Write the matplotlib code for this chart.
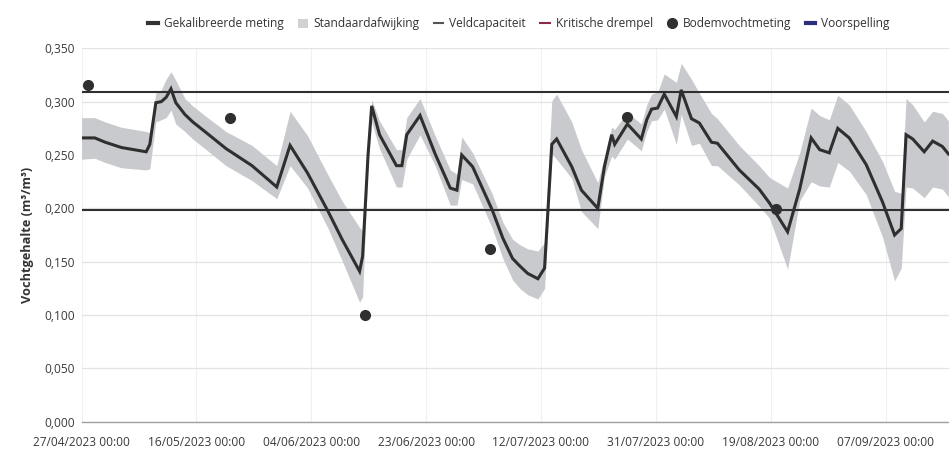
import matplotlib
matplotlib.use("Agg")
import matplotlib.pyplot as plt
from matplotlib.lines import Line2D
from matplotlib.patches import Patch
import pandas as pd

plt.rcParams['font.family'] = ['Open Sans', 'DejaVu Sans']

start = pd.Timestamp("2023-04-27")

# days since 27/04/2023 00:00
meting_days = [0.0, 2.2, 3.9, 6.6, 10.7, 11.3, 12.3, 13.2, 14.0, 14.8, 15.6, 17.1, 18.4, 20.4, 23.9,
               28.2, 32.3, 34.5, 37.4, 40.8, 43.1, 46.0, 46.5, 47.4, 48.0, 49.3, 52.1, 53.0, 53.8,
               56.0, 58.5, 61.0, 62.1, 62.9, 64.7, 67.9, 69.7, 71.3, 72.5, 73.8, 75.5, 76.6, 77.8,
               78.6, 81.1, 82.7, 85.4, 86.5, 87.7, 88.2, 90.3, 92.6, 93.5, 94.3, 95.3, 96.4, 98.4,
               99.2, 100.9, 102.2, 104.2, 105.2, 108.8, 112.1, 113.8, 116.8, 118.8, 120.7, 122.1,
               123.7, 125.1, 127.0, 129.8, 132.5, 134.5, 135.6, 136.4, 137.5, 139.4, 140.8, 142.4, 143.4]
meting = [0.266, 0.266, 0.262, 0.257, 0.253, 0.260, 0.299, 0.300, 0.304, 0.312, 0.299, 0.288, 0.281, 0.272, 0.256,
          0.240, 0.220, 0.259, 0.233, 0.197, 0.171, 0.141, 0.155, 0.250, 0.296, 0.269, 0.240, 0.240, 0.269,
          0.287, 0.251, 0.219, 0.217, 0.250, 0.239, 0.199, 0.172, 0.153, 0.146, 0.139, 0.134, 0.144, 0.260,
          0.265, 0.239, 0.217, 0.200, 0.239, 0.269, 0.260, 0.279, 0.265, 0.283, 0.293, 0.294, 0.307, 0.286,
          0.311, 0.284, 0.280, 0.262, 0.261, 0.236, 0.218, 0.205, 0.178, 0.218, 0.266, 0.255,
          0.252, 0.275, 0.266, 0.241, 0.206, 0.175, 0.181, 0.269, 0.265, 0.253, 0.263, 0.258, 0.251]
std_hoog = [0.285, 0.285, 0.281, 0.276, 0.272, 0.271, 0.308, 0.311, 0.321, 0.328, 0.320, 0.303, 0.296, 0.287, 0.272,
            0.259, 0.240, 0.291, 0.268, 0.231, 0.207, 0.182, 0.179, 0.257, 0.302, 0.282, 0.255, 0.255, 0.285,
            0.303, 0.268, 0.236, 0.232, 0.267, 0.252, 0.214, 0.187, 0.171, 0.166, 0.162, 0.160, 0.168, 0.301,
            0.307, 0.281, 0.255, 0.224, 0.249, 0.276, 0.274, 0.290, 0.279, 0.297, 0.307, 0.309, 0.326, 0.318,
            0.336, 0.321, 0.308, 0.289, 0.284, 0.259, 0.240, 0.229, 0.219, 0.252, 0.294, 0.287,
            0.283, 0.306, 0.297, 0.272, 0.244, 0.216, 0.214, 0.303, 0.297, 0.281, 0.291, 0.289, 0.282]
std_laag = [0.246, 0.247, 0.243, 0.238, 0.236, 0.237, 0.281, 0.283, 0.285, 0.292, 0.279, 0.272, 0.265, 0.256, 0.240,
            0.226, 0.209, 0.240, 0.219, 0.181, 0.151, 0.112, 0.117, 0.243, 0.281, 0.256, 0.220, 0.220, 0.246,
            0.269, 0.240, 0.203, 0.203, 0.227, 0.223, 0.182, 0.153, 0.133, 0.125, 0.119, 0.115, 0.125, 0.251,
            0.246, 0.228, 0.197, 0.181, 0.230, 0.249, 0.246, 0.265, 0.254, 0.272, 0.282, 0.283, 0.293, 0.260,
            0.288, 0.259, 0.261, 0.240, 0.240, 0.222, 0.202, 0.191, 0.143, 0.207, 0.225, 0.221,
            0.220, 0.243, 0.235, 0.213, 0.173, 0.132, 0.144, 0.220, 0.219, 0.210, 0.220, 0.218, 0.211]

bodem_days = [1.07, 24.5, 46.9, 67.5, 90.3, 114.8]
bodem = [0.316, 0.285, 0.100, 0.162, 0.286, 0.199]

veldcapaciteit = 0.309
kritische_drempel = 0.198

tick_dates = ["2023-04-27", "2023-05-16", "2023-06-04", "2023-06-23",
              "2023-07-12", "2023-07-31", "2023-08-19", "2023-09-07"]
tick_labels = ["27/04/2023 00:00", "16/05/2023 00:00", "04/06/2023 00:00", "23/06/2023 00:00",
               "12/07/2023 00:00", "31/07/2023 00:00", "19/08/2023 00:00", "07/09/2023 00:00"]
y_ticks = [0.0, 0.05, 0.10, 0.15, 0.20, 0.25, 0.30, 0.35]
y_labels = ["0,000", "0,050", "0,100", "0,150", "0,200", "0,250", "0,300", "0,350"]

x_line = start + pd.to_timedelta(meting_days, unit="D")
x_dots = start + pd.to_timedelta(bodem_days, unit="D")
x_end = start + pd.Timedelta(days=143.5)

fig = plt.figure(figsize=(9.49, 4.55), dpi=100)
ax = fig.add_axes([81.5 / 949, 33.3 / 455, 1 - 81.5 / 949, (421.7 - 48.3) / 455])

LINE = '#2f2f2f'
BAND = '#c8cacd'

ax.fill_between(x_line, std_laag, std_hoog, color=BAND, lw=0, zorder=2)
ax.plot(x_line, meting, color=LINE, lw=2.2, zorder=4, solid_joinstyle='miter')
ax.axhline(veldcapaciteit, color=LINE, lw=1.5, zorder=3)
ax.axhline(kritische_drempel, color=LINE, lw=1.5, zorder=3)
ax.plot(x_dots, bodem, 'o', color=LINE, ms=7, zorder=5)

ax.set_xlim(start, x_end)
ax.set_ylim(0, 0.35)
ax.set_yticks(y_ticks)
ax.set_yticklabels(y_labels)
ax.set_xticks(pd.to_datetime(tick_dates))
ax.set_xticklabels(tick_labels)
ax.tick_params(axis='both', length=0, labelsize=8.6, colors='#3a3a3a')
ax.tick_params(axis='x', pad=10)
ax.tick_params(axis='y', pad=5)
for lab in ax.get_xticklabels() + ax.get_yticklabels():
    lab.set_fontweight('medium')
ax.grid(axis='y', color='#e3e3e3', lw=0.9, zorder=0)
ax.grid(axis='x', color='#eef0f2', lw=0.8, zorder=0)
for s in ['top', 'right', 'left']:
    ax.spines[s].set_visible(False)
ax.spines['bottom'].set_color('#a0a0a0')
ax.spines['bottom'].set_linewidth(1.0)
ax.set_ylabel("Vochtgehalte (m³/m³)", fontsize=9.2, fontweight='bold', color='#333333', labelpad=7)

handles = [
    Line2D([0], [0], color='#333333', lw=3),
    Patch(facecolor='#cfd1d4', edgecolor='none'),
    Line2D([0], [0], color='#555555', lw=1.5),
    Line2D([0], [0], color='#8a2a44', lw=1.5),
    Line2D([0], [0], marker='o', color='#2f2f2f', lw=0, ms=7),
    Line2D([0], [0], color='#2b2f7a', lw=3),
]
labels = ["Gekalibreerde meting", "Standaardafwijking", "Veldcapaciteit",
          "Kritische drempel", "Bodemvochtmeting", "Voorspelling"]
fig.legend(handles, labels, loc='center', bbox_to_anchor=(519 / 949, 1 - 24 / 455), ncol=6,
           frameon=False, fontsize=8.6, handlelength=0.8, handletextpad=0.5, columnspacing=1.2,
           labelcolor='#333333')

fig.savefig("out.png", dpi=100)
